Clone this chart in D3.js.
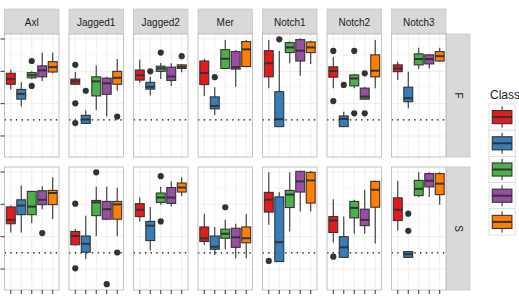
<!DOCTYPE html>
<html>
<head>
<meta charset="utf-8">
<script src="https://cdn.jsdelivr.net/npm/d3@7"></script>
<style>
  body { margin: 0; background: #fff; }
  text { font-family: "Liberation Sans", Arial, sans-serif; }
</style>
</head>
<body>
<div id="plot"></div>
<script>
// Facets and classes
var genes = ["Axl", "Jagged1", "Jagged2", "Mer", "Notch1", "Notch2", "Notch3"];
var rows = ["F", "S"];
var classes = ["1", "2", "3", "4", "5"];
var classColors = ["#E41A1C", "#377EB8", "#4DAF4A", "#984EA3", "#FF7F00"];
var yTicks = [0, 1, 2, 3];
var refLine = 0.5;

// Box stats per gene, per class: [lower whisker, q1, median, q3, upper whisker]
var boxF = [
  [[1.44, 1.60, 1.76, 1.94, 2.06], [0.91, 1.14, 1.30, 1.44, 1.66], [1.76, 1.80, 1.88, 1.96, 2.00], [1.70, 1.83, 2.03, 2.17, 2.58], [1.93, 1.98, 2.13, 2.30, 2.58]],
  [[1.59, 1.60, 1.69, 1.76, 1.98], [0.39, 0.39, 0.51, 0.64, 0.80], [0.80, 1.24, 1.69, 1.83, 2.18], [0.60, 1.29, 1.63, 1.79, 1.83], [1.40, 1.60, 1.80, 2.00, 2.38]],
  [[1.65, 1.73, 1.88, 2.04, 2.37], [1.25, 1.45, 1.52, 1.66, 1.83], [1.76, 2.00, 2.09, 2.16, 2.26], [1.55, 1.72, 1.84, 2.13, 2.25], [1.97, 2.09, 2.14, 2.20, 2.23]],
  [[1.24, 1.59, 1.95, 2.32, 2.39], [0.65, 0.84, 0.93, 1.21, 1.51], [2.09, 2.09, 2.39, 2.67, 2.97], [1.52, 2.07, 2.13, 2.61, 2.66], [2.13, 2.15, 2.68, 2.92, 2.97]],
  [[1.48, 1.83, 2.25, 2.64, 2.97], [0.28, 0.29, 0.52, 1.37, 2.63], [2.25, 2.58, 2.74, 2.89, 2.92], [1.86, 2.32, 2.64, 2.98, 3.02], [2.23, 2.58, 2.74, 2.91, 2.95]],
  [[1.48, 1.82, 2.01, 2.14, 2.44], [0.29, 0.29, 0.53, 0.62, 0.75], [1.48, 1.55, 1.78, 1.89, 1.92], [1.14, 1.14, 1.22, 1.48, 1.52], [1.48, 1.83, 2.02, 2.51, 2.97]],
  [[1.73, 1.99, 2.09, 2.20, 2.30], [0.86, 1.06, 1.17, 1.51, 1.99], [2.07, 2.20, 2.38, 2.54, 2.73], [2.09, 2.23, 2.38, 2.51, 2.53], [2.30, 2.32, 2.47, 2.61, 2.73]]
];
var boxS = [
  [[1.13, 1.40, 1.52, 1.92, 1.96], [1.13, 1.68, 1.96, 2.14, 2.58], [1.42, 1.68, 1.93, 2.40, 2.41], [1.85, 1.99, 2.14, 2.42, 2.56], [1.55, 1.99, 2.35, 2.43, 2.84]],
  [[0.73, 0.75, 1.02, 1.16, 1.24], [0.31, 0.52, 0.78, 1.02, 1.65], [1.02, 1.65, 2.06, 2.12, 2.54], [1.52, 1.54, 1.85, 2.09, 2.54], [1.02, 1.54, 2.00, 2.09, 2.51]],
  [[1.47, 1.62, 1.83, 2.02, 2.21], [0.57, 0.88, 1.34, 1.47, 1.92], [1.99, 2.06, 2.21, 2.35, 2.54], [1.93, 2.03, 2.21, 2.52, 2.71], [2.25, 2.38, 2.52, 2.66, 2.84]],
  [[0.75, 0.85, 0.95, 1.30, 1.70], [0.43, 0.61, 0.69, 1.02, 1.30], [0.61, 0.95, 1.09, 1.23, 1.52], [0.33, 0.67, 0.98, 1.26, 1.40], [0.33, 0.81, 0.95, 1.30, 1.70]],
  [[1.37, 1.76, 2.14, 2.37, 2.99], [0.23, 0.23, 0.83, 2.23, 2.37], [1.16, 1.90, 2.30, 2.43, 2.99], [1.78, 2.38, 2.71, 3.02, 3.03], [1.78, 2.04, 2.74, 2.99, 3.03]],
  [[0.82, 1.13, 1.50, 1.62, 2.16], [0.36, 0.36, 0.67, 1.00, 1.62], [1.09, 1.58, 1.89, 2.09, 2.14], [1.09, 1.34, 1.52, 1.85, 2.45], [0.79, 1.91, 2.45, 2.71, 2.73]],
  [[1.19, 1.50, 1.83, 2.20, 2.73], [0.36, 0.36, 0.46, 0.54, 0.54], [2.23, 2.27, 2.48, 2.74, 2.99], [2.23, 2.54, 2.73, 2.95, 2.99], [1.99, 2.30, 2.64, 2.95, 2.99]]
];

// Outliers: [gene, class, value]
var outF = [
  ["Axl", "3", 2.32], ["Axl", "3", 1.55],
  ["Jagged1", "1", 2.20], ["Jagged1", "1", 1.01], ["Jagged1", "1", 0.40], ["Jagged1", "2", 1.40], ["Jagged1", "5", 0.60],
  ["Jagged2", "2", 2.00], ["Jagged2", "3", 2.58], ["Jagged2", "5", 2.47],
  ["Mer", "2", 1.82],
  ["Notch1", "2", 2.99],
  ["Notch2", "1", 2.63], ["Notch2", "1", 1.08], ["Notch2", "2", 1.58], ["Notch2", "3", 2.63], ["Notch2", "3", 0.70],
  ["Notch2", "4", 1.94], ["Notch2", "4", 0.70]
];
var outS = [
  ["Axl", "4", 1.11],
  ["Jagged1", "1", 2.02], ["Jagged1", "1", 0.02], ["Jagged1", "3", 2.99], ["Jagged1", "4", -0.47], ["Jagged1", "5", 0.51],
  ["Jagged2", "3", 2.87], ["Jagged2", "3", 1.47],
  ["Mer", "3", 1.91],
  ["Notch1", "1", 0.25],
  ["Notch2", "1", 0.38],
  ["Notch3", "2", 1.71], ["Notch3", "2", 1.18]
];

// Define SVG area dimensions
var svgWidth = 519;
var svgHeight = 301;

var svg = d3.select("#plot")
  .append("svg")
  .attr("width", svgWidth)
  .attr("height", svgHeight);

// Facet scales
var xFacet = d3.scaleBand()
  .domain(genes)
  .range([4.5, 446])
  .paddingInner(0.155);

var yFacet = d3.scaleBand()
  .domain(rows)
  .range([34, 290])
  .paddingInner(0.075);

var panelW = xFacet.bandwidth();
var panelH = yFacet.bandwidth();

// Scales inside each panel
var xClass = d3.scalePoint()
  .domain(classes)
  .range([0, panelW])
  .padding(0.6);

var yScale = d3.scaleLinear()
  .domain([-0.65, 3.155])
  .range([panelH, 0]);

var color = d3.scaleOrdinal().domain(classes).range(classColors);
var boxW = xClass.step() * 0.85;

var gridMinor = [-0.5, 0.5, 1.5, 2.5];
var boxData = { F: boxF, S: boxS };
var outData = { F: outF, S: outS };

// Top strips
genes.forEach(function(g) {
  var s = svg.append("g").attr("transform", `translate(${xFacet(g)}, 9)`);
  s.append("rect")
    .attr("width", panelW)
    .attr("height", 25)
    .attr("fill", "#D9D9D9")
    .attr("stroke", "#BDBDBD")
    .attr("stroke-width", 0.6);
  s.append("text")
    .attr("x", panelW / 2)
    .attr("y", 16.5)
    .attr("text-anchor", "middle")
    .attr("font-size", "10px")
    .attr("fill", "#1A1A1A")
    .text(g);
});

// Right strips
rows.forEach(function(r) {
  var s = svg.append("g").attr("transform", `translate(446, ${yFacet(r)})`);
  s.append("rect")
    .attr("width", 24)
    .attr("height", panelH)
    .attr("fill", "#D9D9D9")
    .attr("stroke", "#BDBDBD")
    .attr("stroke-width", 0.6);
  s.append("text")
    .attr("transform", `translate(9, ${panelH / 2}) rotate(90)`)
    .attr("text-anchor", "middle")
    .attr("font-size", "10px")
    .attr("fill", "#1A1A1A")
    .text(r);
});

// Panels
rows.forEach(function(r) {
  genes.forEach(function(g, gi) {
    var panel = svg.append("g")
      .attr("transform", `translate(${xFacet(g)}, ${yFacet(r)})`);

    panel.append("rect")
      .attr("width", panelW)
      .attr("height", panelH)
      .attr("fill", "#fff");

    // minor and major grid
    panel.selectAll(".minor")
      .data(gridMinor)
      .enter()
      .append("line")
      .attr("x1", 0).attr("x2", panelW)
      .attr("y1", d => yScale(d)).attr("y2", d => yScale(d))
      .attr("stroke", "#F2F2F2")
      .attr("stroke-width", 0.5);

    panel.selectAll(".major")
      .data(yTicks)
      .enter()
      .append("line")
      .attr("x1", 0).attr("x2", panelW)
      .attr("y1", d => yScale(d)).attr("y2", d => yScale(d))
      .attr("stroke", "#E6E6E6")
      .attr("stroke-width", 0.7);

    panel.selectAll(".vgrid")
      .data(classes)
      .enter()
      .append("line")
      .attr("x1", d => xClass(d)).attr("x2", d => xClass(d))
      .attr("y1", 0).attr("y2", panelH)
      .attr("stroke", "#E6E6E6")
      .attr("stroke-width", 0.7);

    // dotted reference line
    panel.append("line")
      .attr("x1", 0).attr("x2", panelW)
      .attr("y1", yScale(refLine)).attr("y2", yScale(refLine))
      .attr("stroke", "#000")
      .attr("stroke-width", 1.3)
      .attr("stroke-dasharray", "1.4,4.3");

    var stats = boxData[r][gi];

    var box = panel.selectAll(".box")
      .data(stats)
      .enter()
      .append("g")
      .attr("transform", (d, i) => `translate(${xClass(classes[i])}, 0)`);

    box.append("line")
      .attr("y1", d => yScale(d[0]))
      .attr("y2", d => yScale(d[4]))
      .attr("stroke", "#333")
      .attr("stroke-width", 1.1);

    box.append("rect")
      .attr("x", -boxW / 2)
      .attr("width", boxW)
      .attr("y", d => yScale(d[3]))
      .attr("height", d => yScale(d[1]) - yScale(d[3]))
      .attr("fill", (d, i) => color(classes[i]))
      .attr("stroke", "#333")
      .attr("stroke-width", 1.1);

    box.append("line")
      .attr("x1", -boxW / 2)
      .attr("x2", boxW / 2)
      .attr("y1", d => yScale(d[2]))
      .attr("y2", d => yScale(d[2]))
      .attr("stroke", "#333")
      .attr("stroke-width", 2);

    // outliers
    panel.selectAll(".outlier")
      .data(outData[r].filter(d => d[0] === g))
      .enter()
      .append("circle")
      .attr("cx", d => xClass(d[1]))
      .attr("cy", d => yScale(d[2]))
      .attr("r", 3.1)
      .attr("fill", "#333");

    panel.append("rect")
      .attr("width", panelW)
      .attr("height", panelH)
      .attr("fill", "none")
      .attr("stroke", "#B3B3B3")
      .attr("stroke-width", 0.8);
  });

  // left ticks
  svg.selectAll(".ytick-" + r)
    .data(yTicks)
    .enter()
    .append("line")
    .attr("x1", 0.5).attr("x2", 4.5)
    .attr("y1", d => yFacet(r) + yScale(d))
    .attr("y2", d => yFacet(r) + yScale(d))
    .attr("stroke", "#333")
    .attr("stroke-width", 1);
});

// bottom ticks
genes.forEach(function(g) {
  svg.selectAll(".xtick-" + g)
    .data(classes)
    .enter()
    .append("line")
    .attr("x1", d => xFacet(g) + xClass(d))
    .attr("x2", d => xFacet(g) + xClass(d))
    .attr("y1", 290).attr("y2", 294)
    .attr("stroke", "#333")
    .attr("stroke-width", 1);
});

// Legend
var legend = svg.append("g").attr("transform", "translate(489, 0)");
legend.append("text")
  .attr("x", 1)
  .attr("y", 98.5)
  .attr("font-size", "12px")
  .attr("fill", "#1A1A1A")
  .text("Class");

var keySize = 26.2;
var key = legend.selectAll(".key")
  .data(classes)
  .enter()
  .append("g")
  .attr("transform", (d, i) => `translate(0, ${104 + i * keySize})`);

key.append("rect")
  .attr("width", keySize)
  .attr("height", keySize)
  .attr("fill", "#fff")
  .attr("stroke", "#D9D9D9")
  .attr("stroke-width", 0.8);

key.append("line")
  .attr("x1", keySize / 2).attr("x2", keySize / 2)
  .attr("y1", keySize * 0.1).attr("y2", keySize * 0.9)
  .attr("stroke", "#333")
  .attr("stroke-width", 1.1);

key.append("rect")
  .attr("x", keySize * 0.125)
  .attr("y", keySize * 0.25)
  .attr("width", keySize * 0.75)
  .attr("height", keySize * 0.5)
  .attr("fill", d => color(d))
  .attr("stroke", "#333")
  .attr("stroke-width", 1.1);

key.append("line")
  .attr("x1", keySize * 0.125).attr("x2", keySize * 0.875)
  .attr("y1", keySize / 2).attr("y2", keySize / 2)
  .attr("stroke", "#333")
  .attr("stroke-width", 2);
</script>
</body>
</html>
